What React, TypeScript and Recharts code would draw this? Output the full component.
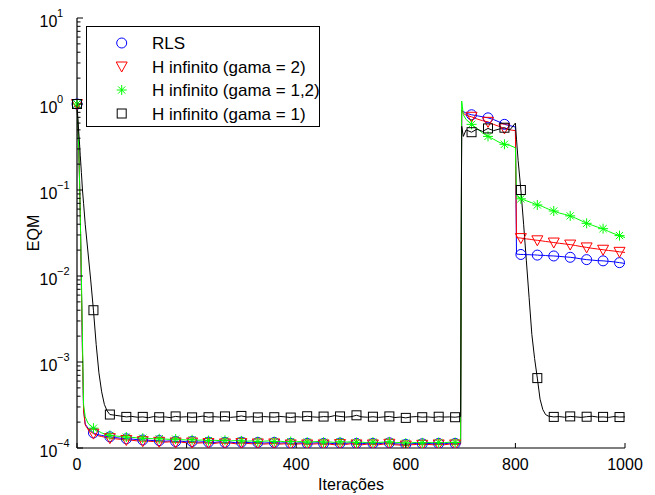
import React from 'react'
import { LineChart, Line, XAxis, YAxis } from 'recharts'

// iterações onde os valores foram lidos
const iteracoes = [
  0, 2, 4, 6, 8, 10, 12, 15, 20, 25, 30, 35, 40, 45, 50, 55,
  60, 70, 80, 90, 100, 110, 120, 130, 140, 150,
  160, 170, 180, 190, 200, 210, 220, 230, 240, 250,
  260, 270, 280, 290, 300, 310, 320, 330, 340, 350,
  360, 370, 380, 390, 400, 410, 420, 430, 440, 450,
  460, 470, 480, 490, 500, 510, 520, 530, 540, 550,
  560, 570, 580, 590, 600, 610, 620, 630, 640, 650,
  660, 670, 680, 690, 700,
  702, 705, 710, 720, 730, 740, 750, 760, 770, 780, 790, 800,
  802, 805, 810, 815, 820, 825, 830, 835, 840, 845, 850, 855,
  860, 870, 880, 890, 900, 910, 920, 930, 940, 950, 960, 970, 980, 990, 1000,
]

const rls = [
  1, 0.5, 0.2, 0.05, 0.008, 1.3e-3, 2.8e-4, 1.9e-4, 1.7e-4, 1.6e-4, 1.5e-4, 1.45e-4, 1.42e-4, 1.4e-4, 1.38e-4, 1.36e-4,
  1.35e-4, 1.32e-4, 1.3e-4, 1.28e-4, 1.27e-4, 1.25e-4, 1.24e-4, 1.23e-4, 1.22e-4, 1.22e-4,
  1.2e-4, 1.21e-4, 1.19e-4, 1.2e-4, 1.18e-4, 1.19e-4, 1.17e-4, 1.18e-4, 1.17e-4, 1.16e-4,
  1.18e-4, 1.16e-4, 1.17e-4, 1.15e-4, 1.17e-4, 1.16e-4, 1.15e-4, 1.16e-4, 1.14e-4, 1.15e-4,
  1.16e-4, 1.14e-4, 1.15e-4, 1.13e-4, 1.14e-4, 1.15e-4, 1.13e-4, 1.14e-4, 1.15e-4, 1.13e-4,
  1.14e-4, 1.12e-4, 1.14e-4, 1.13e-4, 1.15e-4, 1.13e-4, 1.12e-4, 1.14e-4, 1.13e-4, 1.12e-4,
  1.14e-4, 1.15e-4, 1.12e-4, 1.11e-4, 1.1e-4, 1.12e-4, 1.13e-4, 1.12e-4, 1.13e-4, 1.12e-4,
  1.13e-4, 1.12e-4, 1.14e-4, 1.13e-4, 1.14e-4,
  0.85, 0.82, 0.78, 0.75, 0.73, 0.71, 0.69, 0.66, 0.62, 0.58, 0.56, 0.54,
  0.018, 0.0179, 0.0178, 0.0178, 0.0177, 0.0177, 0.0176, 0.0176, 0.0175, 0.0174, 0.0174, 0.0173,
  0.0172, 0.0171, 0.0169, 0.0167, 0.0165, 0.0162, 0.0158, 0.0155, 0.0153, 0.0151, 0.015, 0.0148, 0.0146, 0.0143, 0.014,
]

const hGama2 = [
  1, 0.5, 0.2, 0.05, 0.008, 1.3e-3, 2.7e-4, 1.85e-4, 1.65e-4, 1.55e-4, 1.47e-4, 1.42e-4, 1.38e-4, 1.36e-4, 1.34e-4, 1.32e-4,
  1.3e-4, 1.28e-4, 1.26e-4, 1.24e-4, 1.23e-4, 1.21e-4, 1.2e-4, 1.2e-4, 1.19e-4, 1.18e-4,
  1.17e-4, 1.18e-4, 1.16e-4, 1.17e-4, 1.15e-4, 1.16e-4, 1.14e-4, 1.15e-4, 1.14e-4, 1.13e-4,
  1.15e-4, 1.13e-4, 1.14e-4, 1.12e-4, 1.14e-4, 1.13e-4, 1.12e-4, 1.13e-4, 1.11e-4, 1.12e-4,
  1.13e-4, 1.11e-4, 1.12e-4, 1.1e-4, 1.11e-4, 1.12e-4, 1.1e-4, 1.11e-4, 1.12e-4, 1.1e-4,
  1.11e-4, 1.09e-4, 1.11e-4, 1.1e-4, 1.12e-4, 1.1e-4, 1.09e-4, 1.11e-4, 1.1e-4, 1.09e-4,
  1.11e-4, 1.12e-4, 1.09e-4, 1.08e-4, 1.07e-4, 1.09e-4, 1.1e-4, 1.09e-4, 1.1e-4, 1.09e-4,
  1.1e-4, 1.09e-4, 1.11e-4, 1.1e-4, 1.11e-4,
  0.85, 0.78, 0.74, 0.71, 0.67, 0.64, 0.62, 0.58, 0.55, 0.52, 0.5, 0.49,
  0.028, 0.0278, 0.0276, 0.0273, 0.027, 0.0268, 0.0265, 0.0262, 0.026, 0.0258, 0.0255, 0.0252,
  0.025, 0.0245, 0.024, 0.0236, 0.0232, 0.0226, 0.022, 0.0215, 0.021, 0.0206, 0.0202, 0.0198, 0.0195, 0.0191, 0.0188,
]

const hGama12 = [
  1, 0.5, 0.2, 0.05, 0.01, 1.8e-3, 3.2e-4, 2.3e-4, 1.95e-4, 1.8e-4, 1.7e-4, 1.62e-4, 1.56e-4, 1.5e-4, 1.46e-4, 1.43e-4,
  1.4e-4, 1.38e-4, 1.36e-4, 1.34e-4, 1.33e-4, 1.31e-4, 1.3e-4, 1.29e-4, 1.28e-4, 1.28e-4,
  1.27e-4, 1.26e-4, 1.27e-4, 1.25e-4, 1.24e-4, 1.25e-4, 1.23e-4, 1.24e-4, 1.22e-4, 1.23e-4,
  1.22e-4, 1.23e-4, 1.21e-4, 1.22e-4, 1.21e-4, 1.2e-4, 1.21e-4, 1.19e-4, 1.2e-4, 1.21e-4,
  1.19e-4, 1.2e-4, 1.18e-4, 1.19e-4, 1.18e-4, 1.19e-4, 1.17e-4, 1.18e-4, 1.19e-4, 1.17e-4,
  1.18e-4, 1.16e-4, 1.18e-4, 1.17e-4, 1.18e-4, 1.16e-4, 1.17e-4, 1.15e-4, 1.17e-4, 1.16e-4,
  1.17e-4, 1.18e-4, 1.15e-4, 1.16e-4, 1.14e-4, 1.15e-4, 1.16e-4, 1.15e-4, 1.16e-4, 1.15e-4,
  1.16e-4, 1.15e-4, 1.17e-4, 1.16e-4, 1.17e-4,
  1.08, 0.75, 0.66, 0.58, 0.52, 0.46, 0.42, 0.39, 0.36, 0.34, 0.33, 0.31,
  0.085, 0.082, 0.079, 0.077, 0.075, 0.073, 0.071, 0.069, 0.067, 0.066, 0.064, 0.062,
  0.06, 0.057, 0.054, 0.052, 0.05, 0.047, 0.044, 0.041, 0.039, 0.037, 0.0355, 0.033, 0.031, 0.0295, 0.028,
]

const hGama1 = [
  1, 0.6, 0.4, 0.25, 0.16, 0.1, 0.07, 0.04, 0.019, 0.009, 4e-3, 1.6e-3, 7.5e-4, 4.5e-4, 3.2e-4, 2.7e-4,
  2.45e-4, 2.4e-4, 2.35e-4, 2.3e-4, 2.33e-4, 2.28e-4, 2.3e-4, 2.25e-4, 2.32e-4, 2.28e-4,
  2.3e-4, 2.26e-4, 2.33e-4, 2.29e-4, 2.31e-4, 2.27e-4, 2.3e-4, 2.35e-4, 2.28e-4, 2.31e-4,
  2.29e-4, 2.33e-4, 2.27e-4, 2.3e-4, 2.36e-4, 2.29e-4, 2.31e-4, 2.27e-4, 2.32e-4, 2.3e-4,
  2.28e-4, 2.33e-4, 2.3e-4, 2.26e-4, 2.31e-4, 2.29e-4, 2.34e-4, 2.3e-4, 2.28e-4, 2.32e-4,
  2.3e-4, 2.38e-4, 2.33e-4, 2.29e-4, 2.31e-4, 2.4e-4, 2.3e-4, 2.28e-4, 2.31e-4, 2.27e-4,
  2.3e-4, 2.33e-4, 2.26e-4, 2.29e-4, 2.24e-4, 2.3e-4, 2.32e-4, 2.28e-4, 2.3e-4, 2.27e-4,
  2.31e-4, 2.29e-4, 2.3e-4, 2.28e-4, 2.32e-4,
  0.55, 0.42, 0.5, 0.47, 0.51, 0.48, 0.52, 0.49, 0.51, 0.53, 0.5, 0.6,
  0.39, 0.22, 0.1, 0.04, 0.015, 5.6e-3, 2.1e-3, 1.1e-3, 6.5e-4, 3.7e-4, 2.8e-4, 2.45e-4,
  2.35e-4, 2.3e-4, 2.32e-4, 2.28e-4, 2.33e-4, 2.3e-4, 2.27e-4, 2.31e-4, 2.34e-4, 2.29e-4, 2.3e-4, 2.27e-4, 2.32e-4, 2.29e-4, 2.3e-4,
]

const xTicks = [0, 200, 400, 600, 800, 1000]
const yMajor = [1e-4, 1e-3, 1e-2, 1e-1, 1, 10]
const yExpoentes = ['\u22124', '\u22123', '\u22122', '\u22121', '0', '1']
const yMinor = [
  2e-4, 3e-4, 4e-4, 5e-4, 6e-4, 7e-4, 8e-4, 9e-4,
  2e-3, 3e-3, 4e-3, 5e-3, 6e-3, 7e-3, 8e-3, 9e-3,
  2e-2, 3e-2, 4e-2, 5e-2, 6e-2, 7e-2, 8e-2, 9e-2,
  0.2, 0.3, 0.4, 0.5, 0.6, 0.7, 0.8, 0.9,
  2, 3, 4, 5, 6, 7, 8, 9,
]
const yTicks = [...yMajor, ...yMinor].sort((a, b) => a - b)

const series = [
  { key: 'rls', name: 'RLS', color: '#0000ff', marker: 'circle' },
  { key: 'g2', name: 'H infinito (gama = 2)', color: '#ff0000', marker: 'triangle' },
  { key: 'g12', name: 'H infinito (gama = 1,2)', color: '#00ff00', marker: 'star' },
  { key: 'g1', name: 'H infinito (gama = 1)', color: '#000000', marker: 'square' },
]

const data = iteracoes.map((x, i) => ({
  x,
  rls: rls[i],
  g2: hGama2[i],
  g12: hGama12[i],
  g1: hGama1[i],
}))

function Marker({ kind, cx, cy, color }: any) {
  if (kind === 'circle') return <circle cx={cx} cy={cy} r={5} fill="none" stroke={color} strokeWidth={1} />
  if (kind === 'triangle')
    return (
      <polygon
        points={`${cx - 5.5},${cy - 4.5} ${cx + 5.5},${cy - 4.5} ${cx},${cy + 5.5}`}
        fill="none"
        stroke={color}
        strokeWidth={1}
      />
    )
  if (kind === 'star')
    return (
      <g stroke={color} strokeWidth={1}>
        <line x1={cx - 5} y1={cy} x2={cx + 5} y2={cy} />
        <line x1={cx} y1={cy - 5} x2={cx} y2={cy + 5} />
        <line x1={cx - 3.6} y1={cy - 3.6} x2={cx + 3.6} y2={cy + 3.6} />
        <line x1={cx - 3.6} y1={cy + 3.6} x2={cx + 3.6} y2={cy - 3.6} />
      </g>
    )
  return <rect x={cx - 4.5} y={cy - 4.5} width={9} height={9} fill="none" stroke={color} strokeWidth={1} />
}

const dotFor = (kind: string, color: string) => (p: any) => {
  if (p.payload.x % 30 !== 0) return <g key={p.index} />
  return (
    <g key={p.index}>
      <Marker kind={kind} cx={p.cx} cy={p.cy} color={color} />
    </g>
  )
}

function YTickLeft({ x, y, payload }: any) {
  const i = yMajor.indexOf(payload.value)
  if (i < 0) return <line x1={x} x2={x + 3.5} y1={y} y2={y} stroke="#000" />
  return (
    <g>
      <line x1={x} x2={x + 6} y1={y} y2={y} stroke="#000" />
      <text x={x - 19.7} y={y + 9} textAnchor="end" fontSize={16} fill="#000">10</text>
      <text x={x - 20} y={y - 1.5} textAnchor="start" fontSize={11} fill="#000">{yExpoentes[i]}</text>
    </g>
  )
}

function YTickRight({ x, y, payload }: any) {
  const len = yMajor.indexOf(payload.value) < 0 ? 3.5 : 6
  return <line x1={x} x2={x - len} y1={y} y2={y} stroke="#000" />
}

function XTickBottom({ x, y, payload }: any) {
  return (
    <g>
      <line x1={x} x2={x} y1={y} y2={y - 5} stroke="#000" />
      <text x={x} y={y + 22} textAnchor="middle" fontSize={16} fill="#000">{payload.value}</text>
    </g>
  )
}

function XTickTop({ x, y }: any) {
  return <line x1={x} x2={x} y1={y} y2={y + 5} stroke="#000" />
}

function Legenda() {
  return (
    <div
      style={{
        position: 'absolute',
        left: 86,
        top: 26,
        width: 234,
        height: 101,
        border: '1px solid #000',
        boxSizing: 'border-box',
        background: '#fff',
      }}
    >
      <svg width={232} height={99} style={{ display: 'block' }}>
        {series.map((s, i) => {
          const cy = 16 + i * 23.5
          return (
            <g key={s.key}>
              <Marker kind={s.marker} cx={34.7} cy={cy} color={s.color} />
              <text x={65} y={cy + 6} fontSize={17} fill="#000">{s.name}</text>
            </g>
          )
        })}
      </svg>
    </div>
  )
}

export default function App() {
  return (
    <div
      style={{
        position: 'absolute',
        left: 0,
        top: 0,
        width: 655,
        height: 495,
        background: '#fff',
        fontFamily: '"Liberation Sans", Arial, Helvetica, sans-serif',
      }}
    >
      <LineChart width={655} height={495} data={data} margin={{ top: 18, right: 30, bottom: 0, left: 0 }}>
        <XAxis
          dataKey="x"
          type="number"
          domain={[0, 1000]}
          ticks={xTicks}
          interval={0}
          height={47}
          tickSize={0}
          tickMargin={0}
          tickLine={false}
          axisLine={{ stroke: '#000', strokeWidth: 1.2 }}
          tick={(p: any) => <XTickBottom {...p} />}
          label={({ viewBox }: any) => (
            <text x={viewBox.x + viewBox.width / 2} y={viewBox.y + 41.5} textAnchor="middle" fontSize={16} fill="#000">
              Iterações
            </text>
          )}
        />
        <XAxis
          xAxisId="top"
          orientation="top"
          type="number"
          domain={[0, 1000]}
          ticks={xTicks}
          interval={0}
          height={0}
          tickSize={0}
          tickMargin={0}
          tickLine={false}
          axisLine={{ stroke: '#000', strokeWidth: 1.2 }}
          tick={(p: any) => <XTickTop {...p} />}
        />
        <YAxis
          type="number"
          scale="log"
          domain={[1e-4, 10]}
          allowDataOverflow
          ticks={yTicks}
          interval={0}
          width={77}
          tickSize={0}
          tickMargin={0}
          tickLine={false}
          axisLine={{ stroke: '#000', strokeWidth: 1.2 }}
          tick={(p: any) => <YTickLeft {...p} />}
          label={({ viewBox }: any) => {
            const cx = 33.5
            const cy = viewBox.y + viewBox.height / 2
            return (
              <text x={cx} y={cy} transform={`rotate(-90 ${cx} ${cy})`} textAnchor="middle" dominantBaseline="central" fontSize={16} fill="#000">
                EQM
              </text>
            )
          }}
        />
        <YAxis
          yAxisId="right"
          orientation="right"
          type="number"
          scale="log"
          domain={[1e-4, 10]}
          allowDataOverflow
          ticks={yTicks}
          interval={0}
          width={0}
          tickSize={0}
          tickMargin={0}
          tickLine={false}
          axisLine={{ stroke: '#000', strokeWidth: 1.2 }}
          tick={(p: any) => <YTickRight {...p} />}
        />
        {series.map((s) => (
          <Line
            key={s.key}
            type="linear"
            dataKey={s.key}
            stroke={s.color}
            strokeWidth={1}
            dot={dotFor(s.marker, s.color)}
            activeDot={false}
            isAnimationActive={false}
          />
        ))}
      </LineChart>
      <Legenda />
    </div>
  )
}
